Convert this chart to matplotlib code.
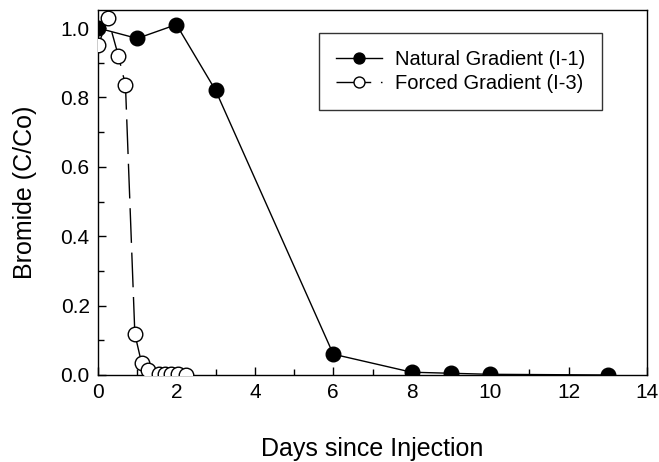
import matplotlib.pyplot as plt
from matplotlib.ticker import MultipleLocator

plt.rcParams['font.family'] = ['Liberation Sans', 'DejaVu Sans']

# Natural gradient (I-1)
nat_days = [0, 1, 2, 3, 6, 8, 9, 10, 13]
nat_conc = [1.0, 0.97, 1.01, 0.82, 0.06, 0.008, 0.005, 0.002, 0.0]

# Forced gradient (I-3)
frc_days = [0.01, 0.25, 0.52, 0.70, 0.94, 1.11, 1.28, 1.56, 1.72, 1.86, 2.04, 2.24]
frc_conc = [0.95, 1.03, 0.92, 0.836, 0.118, 0.035, 0.014, 0.004, 0.003, 0.003, 0.003, 0.001]

fig = plt.figure(figsize=(6.59, 4.62), dpi=100)
ax = fig.add_axes([98 / 659, 1 - 375 / 462, 549 / 659, 365 / 462])

ax.plot(nat_days, nat_conc, color='black', linewidth=1, marker='o', markersize=10.5,
        markerfacecolor='black', markeredgecolor='black', label='Natural Gradient (I-1)',
        zorder=3)
ax.plot(frc_days, frc_conc, color='black', linewidth=1, dashes=(25, 7), marker='o',
        markersize=10.5, markerfacecolor='white', markeredgecolor='black',
        markeredgewidth=1, label='Forced Gradient (I-3)', zorder=4)

ax.set_xlim(0, 14)
ax.set_ylim(0, 1.052)
ax.xaxis.set_major_locator(MultipleLocator(2))
ax.xaxis.set_minor_locator(MultipleLocator(1))
ax.yaxis.set_minor_locator(MultipleLocator(0.1))
ax.set_yticks([0, 0.2, 0.4, 0.6, 0.8, 1.0])
ax.set_yticklabels(['0.0', '0.2', '0.4', '0.6', '0.8', '1.0'])
ax.tick_params(which='both', direction='in', labelsize=15, top=False, right=False)
ax.tick_params(which='major', length=6, width=1, pad=6)
ax.tick_params(which='minor', length=4, width=1)
for s in ax.spines.values():
    s.set_linewidth(1)

ax.set_xlabel('Days since Injection', fontsize=18, labelpad=25)
ax.set_ylabel('Bromide (C/Co)', fontsize=18, labelpad=17)

leg = ax.legend(loc='upper left', bbox_to_anchor=(0.4026, 0.937), fontsize=14.5,
                frameon=True, fancybox=False, edgecolor='black', handlelength=2.3,
                handletextpad=0.6, borderpad=0.85, labelspacing=0.25, numpoints=1,
                markerscale=0.75, borderaxespad=0)
leg.get_frame().set_linewidth(1)

plt.savefig('out.png', dpi=100)
